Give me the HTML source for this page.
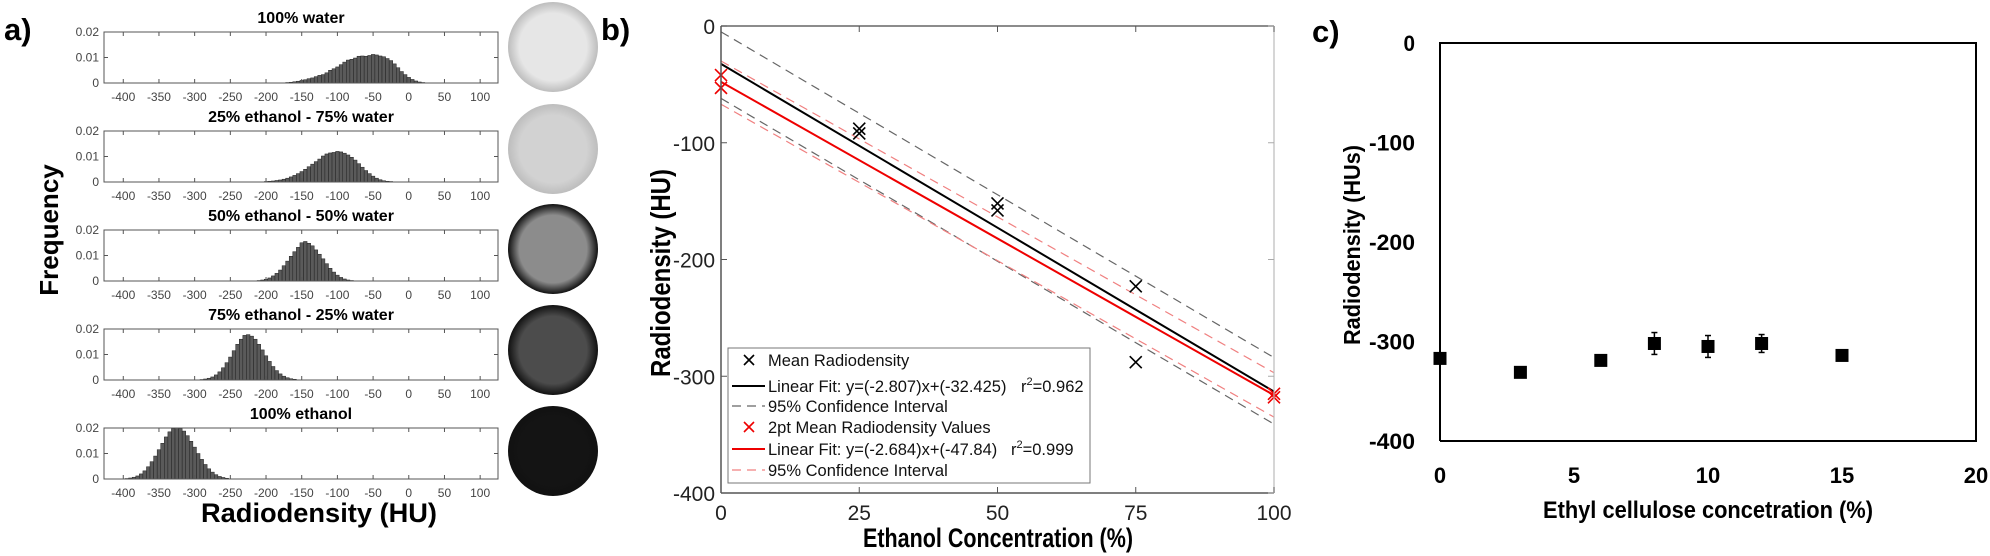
<!DOCTYPE html>
<html><head><meta charset="utf-8"><style>
html,body{margin:0;padding:0;background:#fff;}
svg{display:block;font-family:"Liberation Sans",Arial,sans-serif;}
</style></head><body>
<svg id="fig" width="1990" height="556" viewBox="0 0 1990 556" xmlns="http://www.w3.org/2000/svg">
<g id="pa"></g>
<g id="pb"></g>
<g id="pc"></g>
</svg>
<script>
// ---------- Panel a data ----------
const histTitles = ["100% water","25% ethanol - 75% water","50% ethanol - 50% water","75% ethanol - 25% water","100% ethanol"];
const histStarts = [-170,-200,-210,-290,-395];
const histWater = [0.0002,0.0003,0.0005,0.0007,0.001,0.0013,0.0017,0.002,0.0025,0.003,0.0033,0.004,0.005,0.0056,0.0063,0.0072,0.0082,0.009,0.0093,0.0098,0.0105,0.0106,0.0105,0.0108,0.0112,0.011,0.0106,0.0103,0.0096,0.0088,0.0075,0.006,0.0045,0.0033,0.0022,0.0014,0.0008,0.0004,0.0002];
const hist25 = [0.0002,0.0003,0.0004,0.0006,0.0008,0.0011,0.0015,0.002,0.0026,0.0033,0.0041,0.005,0.006,0.007,0.008,0.009,0.0102,0.011,0.0114,0.0116,0.012,0.0118,0.0113,0.0106,0.0097,0.0086,0.0072,0.0058,0.0045,0.0033,0.0023,0.0015,0.0009,0.0005,0.0003,0.0002];
const hist50 = [0.0002,0.0004,0.0007,0.0012,0.002,0.003,0.0043,0.006,0.0078,0.0097,0.0115,0.0132,0.015,0.0155,0.0148,0.0138,0.0122,0.0105,0.0087,0.0068,0.005,0.0035,0.0023,0.0014,0.0008,0.0004,0.0002];
const hist75 = [0.0002,0.0004,0.0007,0.0012,0.002,0.0032,0.0048,0.0068,0.009,0.0115,0.014,0.016,0.0175,0.0178,0.0172,0.016,0.014,0.0118,0.0095,0.0073,0.0053,0.0037,0.0024,0.0015,0.0009,0.0005,0.0003,0.0001];
const hist100 = [0.0002,0.0004,0.0007,0.0012,0.002,0.0032,0.0048,0.0068,0.009,0.0115,0.014,0.0165,0.0185,0.0198,0.02,0.0198,0.0188,0.017,0.0148,0.0125,0.01,0.0077,0.0057,0.004,0.0027,0.0017,0.001,0.0006,0.0003,0.0001];
const histSeries = [histWater,hist25,hist50,hist75,hist100];
const histXTicks = [-400,-350,-300,-250,-200,-150,-100,-50,0,50,100];
const histYTicks = [0,0.01,0.02];
const circleShades = ["#e6e6e6","#d2d2d2","#8c8c8c","#4c4c4c","#141414"];

// ---------- Panel b data ----------
const bXTicks = [0,25,50,75,100];
const bYTicks = [0,-100,-200,-300,-400];
const meanX = [25,25,50,50,75,75];
const meanY = [-88,-92,-152,-158,-223,-288];
const twoPtX = [0,0,100,100];
const twoPtY = [-42,-53,-315,-318];
const fitBlack = [-2.807,-32.425];
const fitRed = [-2.684,-47.84];
const ciBlackUpper = [-5,-284];
const ciBlackLower = [-62,-341];
const ciRedUpper = [-30,-297];
const ciRedLower = [-67,-335];

// ---------- Panel c data ----------
const cX = [0,3,6,8,10,12,15];
const cY = [-317,-331,-319,-302,-305,-302,-314];
const cErr = [5,4,5,11,11,9,3];
const cXTicks = [0,5,10,15,20];
const cYTicks = [0,-100,-200,-300,-400];

const NS="http://www.w3.org/2000/svg";
function mk(parent,tag,attrs,text){const e=document.createElementNS(NS,tag);for(const k in attrs)e.setAttribute(k,attrs[k]);if(text!==undefined)e.textContent=text;parent.appendChild(e);return e;}

// ===== Panel a =====
const pa=document.getElementById('pa');
let t=mk(pa,'text',{x:4,y:40,'font-size':31,'font-weight':'bold'},'a)');


t=mk(pa,'text',{x:0,y:0,'font-size':26,'font-weight':'bold','text-anchor':'middle',transform:'translate(58,230) rotate(-90)'},'Frequency');


t=mk(pa,'text',{x:319,y:522,'font-size':27,'font-weight':'bold','text-anchor':'middle',textLength:236,lengthAdjust:'spacingAndGlyphs'},'Radiodensity (HU)');


const aL=104,aR=498,aMin=-427,aMax=125;
function ax(v){return aL+(v-aMin)*(aR-aL)/(aMax-aMin);}
for(let i=0;i<5;i++){
  const top=32+99*i,bot=top+51;
  const ay=v=>bot-(v/0.02)*(bot-top);
  const g=mk(pa,'g',{});
  
  
  t=mk(g,'text',{x:301,y:top-9,'font-size':16,'font-weight':'bold','text-anchor':'middle'},histTitles[i]);
  
  
  const s=histSeries[i];
  for(let j=0;j<s.length;j++){
    const v0=histStarts[i]+j*5;
    const b=mk(g,'rect',{x:ax(v0-2.5),y:ay(s[j]),width:ax(v0+2.5)-ax(v0-2.5),height:bot-ay(s[j]),fill:'#5a5a5a',stroke:'#222','stroke-width':0.5});
    
    
  }
  mk(g,'rect',{x:aL,y:top,width:aR-aL,height:bot-top,fill:'none',stroke:'#555','stroke-width':1});
  histXTicks.forEach(v=>{
    mk(g,'line',{x1:ax(v),x2:ax(v),y1:bot,y2:bot-4,stroke:'#555'});
    mk(g,'line',{x1:ax(v),x2:ax(v),y1:top,y2:top+4,stroke:'#555'});
    const tl=mk(g,'text',{x:ax(v),y:bot+18,'font-size':12,fill:'#444','text-anchor':'middle'},v);
    
    
  });
  histYTicks.forEach(v=>{
    mk(g,'line',{x1:aL,x2:aL+4,y1:ay(v),y2:ay(v),stroke:'#555'});
    mk(g,'line',{x1:aR,x2:aR-4,y1:ay(v),y2:ay(v),stroke:'#555'});
    const tl=mk(g,'text',{x:aL-5,y:ay(v)+4,'font-size':12,fill:'#444','text-anchor':'end'},v===0?'0':v.toFixed(2));
    
    
  });
  const cy=[47,149,249,350,451][i];
  const defs=mk(g,'defs',{});
  const rg=mk(defs,'radialGradient',{id:'rg'+i});
  mk(rg,'stop',{offset:'0.75','stop-color':circleShades[i]});
  mk(rg,'stop',{offset:'1','stop-color':i<2?'#bdbdbd':'#111'});
  const c=mk(g,'circle',{cx:553,cy:cy,r:45,fill:'url(#rg'+i+')'});
  
  
}

// ===== Panel b =====
const pb=document.getElementById('pb');
const bL=721,bR=1274,bT=26,bB=493;
const bx=v=>bL+v*(bR-bL)/100, by=v=>bT+(-v)*(bB-bT)/400;
t=mk(pb,'text',{x:601,y:40,'font-size':31,'font-weight':'bold'},'b)');


mk(pb,'rect',{x:bL,y:bT,width:bR-bL,height:bB-bT,fill:'#fff',stroke:'none'});
function ciLine(arr,col){const l=mk(pb,'line',{x1:bx(0),y1:by(arr[0]),x2:bx(100),y2:by(arr[1]),stroke:col,'stroke-width':1.2,'stroke-dasharray':'9 6'});}
ciLine(ciBlackUpper,'#666');ciLine(ciBlackLower,'#666');ciLine(ciRedUpper,'#f08080');ciLine(ciRedLower,'#f08080');
let fl=mk(pb,'line',{x1:bx(0),y1:by(fitBlack[1]),x2:bx(100),y2:by(fitBlack[0]*100+fitBlack[1]),stroke:'#000','stroke-width':2});


fl=mk(pb,'line',{x1:bx(0),y1:by(fitRed[1]),x2:bx(100),y2:by(fitRed[0]*100+fitRed[1]),stroke:'#e00','stroke-width':2});


function cross(par,x,y,col,s){const g=mk(par,'path',{d:`M${x-s},${y-s}L${x+s},${y+s}M${x-s},${y+s}L${x+s},${y-s}`,stroke:col,'stroke-width':1.6,fill:'none'});return g;}
meanX.forEach((v,i)=>{const m=cross(pb,bx(v),by(meanY[i]),'#000',6);});
twoPtX.forEach((v,i)=>{const m=cross(pb,bx(v),by(twoPtY[i]),'#e00',6);});
mk(pb,'line',{x1:bL,y1:bT,x2:bR,y2:bT,stroke:'#666','stroke-width':1.5});
mk(pb,'line',{x1:bL,y1:bB,x2:bR,y2:bB,stroke:'#555','stroke-width':1.5});
mk(pb,'line',{x1:bL,y1:bT,x2:bL,y2:bB,stroke:'#555','stroke-width':1.5});
mk(pb,'line',{x1:bR,y1:bT,x2:bR,y2:bB,stroke:'#bbb','stroke-width':1.2});
bXTicks.forEach(v=>{
  mk(pb,'line',{x1:bx(v),x2:bx(v),y1:bB,y2:bB-6,stroke:'#555'});
  mk(pb,'line',{x1:bx(v),x2:bx(v),y1:bT,y2:bT+6,stroke:'#555'});
  const tl=mk(pb,'text',{x:bx(v),y:520,'font-size':21,'text-anchor':'middle',fill:'#222'},v);
  
  
});
bYTicks.forEach(v=>{
  mk(pb,'line',{x1:bL,x2:bL+6,y1:by(v),y2:by(v),stroke:'#555'});
  mk(pb,'line',{x1:bR,x2:bR-6,y1:by(v),y2:by(v),stroke:'#aaa'});
  const tl=mk(pb,'text',{x:715,y:by(v)+8,'font-size':21,'text-anchor':'end',fill:'#222'},v);
  
  
});
t=mk(pb,'text',{x:0,y:0,'font-size':28,'font-weight':'bold','text-anchor':'middle',textLength:208,lengthAdjust:'spacingAndGlyphs',transform:'translate(670,273) rotate(-90)'},'Radiodensity (HU)');


t=mk(pb,'text',{x:998,y:547,'font-size':27,'font-weight':'bold','text-anchor':'middle',textLength:270,lengthAdjust:'spacingAndGlyphs'},'Ethanol Concentration (%)');


// legend
const lg=mk(pb,'g',{});


mk(lg,'rect',{x:728,y:348,width:362,height:135,fill:'#fff',stroke:'#777','stroke-width':1});
const rows=[360,386,406,427,449,470];
cross(lg,749,rows[0],'#000',5);
mk(lg,'line',{x1:732,x2:765,y1:rows[1],y2:rows[1],stroke:'#000','stroke-width':2});
mk(lg,'line',{x1:732,x2:765,y1:rows[2],y2:rows[2],stroke:'#666','stroke-width':1.2,'stroke-dasharray':'9 6'});
cross(lg,749,rows[3],'#e00',5);
mk(lg,'line',{x1:732,x2:765,y1:rows[4],y2:rows[4],stroke:'#e00','stroke-width':2});
mk(lg,'line',{x1:732,x2:765,y1:rows[5],y2:rows[5],stroke:'#f08080','stroke-width':1.2,'stroke-dasharray':'9 6'});
const labels=['Mean Radiodensity','Linear Fit: y=(-2.807)x+(-32.425)','95% Confidence Interval','2pt Mean Radiodensity Values','Linear Fit: y=(-2.684)x+(-47.84)','95% Confidence Interval'];
labels.forEach((s,i)=>{const e=mk(lg,'text',{x:768,y:rows[i]+6,'font-size':16.5,fill:'#111'},s);});
function r2(x,y,val){const e=mk(lg,'text',{x:x,y:y,'font-size':16.5,fill:'#111'});mk(e,'tspan',{},'r');mk(e,'tspan',{dy:-7,'font-size':11},'2');mk(e,'tspan',{dy:7},'='+val);}
r2(1021,rows[1]+6,'0.962');r2(1011,rows[4]+6,'0.999');

// ===== Panel c =====
const pc=document.getElementById('pc');
const cL=1440,cR=1976,cT=43,cB=441;
const cxs=v=>cL+v*(cR-cL)/20, cys=v=>cT+(-v)*(cB-cT)/400;
t=mk(pc,'text',{x:1312,y:42,'font-size':31,'font-weight':'bold'},'c)');


mk(pc,'polyline',{points:`${cL},${cB} ${cL},${cT} ${cR},${cT} ${cR},${cB} ${cL},${cB}`,fill:'none',stroke:'#000','stroke-width':2});
cYTicks.forEach(v=>{const e=mk(pc,'text',{x:1415,y:cys(v)+8,'font-size':22,'font-weight':'bold','text-anchor':'end',textLength:String(v).length*11.5,lengthAdjust:'spacingAndGlyphs'},v);});
cXTicks.forEach(v=>{const e=mk(pc,'text',{x:cxs(v),y:483,'font-size':22,'font-weight':'bold','text-anchor':'middle'},v);});
cX.forEach((v,i)=>{
  const x=cxs(v),y=cys(cY[i]),e=cErr[i]*(cB-cT)/400;
  const g=mk(pc,'g',{});
  
  
  mk(g,'line',{x1:x,x2:x,y1:y-e,y2:y+e,stroke:'#000','stroke-width':1.5});
  mk(g,'line',{x1:x-3,x2:x+3,y1:y-e,y2:y-e,stroke:'#000','stroke-width':1.5});
  mk(g,'line',{x1:x-3,x2:x+3,y1:y+e,y2:y+e,stroke:'#000','stroke-width':1.5});
  mk(g,'rect',{x:x-6.5,y:y-6.5,width:13,height:13,fill:'#000'});
});
t=mk(pc,'text',{x:0,y:0,'font-size':23,'font-weight':'bold','text-anchor':'middle',textLength:200,lengthAdjust:'spacingAndGlyphs',transform:'translate(1360,245) rotate(-90)'},'Radiodensity (HUs)');


t=mk(pc,'text',{x:1708,y:518,'font-size':24,'font-weight':'bold','text-anchor':'middle',textLength:330,lengthAdjust:'spacingAndGlyphs'},'Ethyl cellulose concetration (%)');


</script>
</body></html>
